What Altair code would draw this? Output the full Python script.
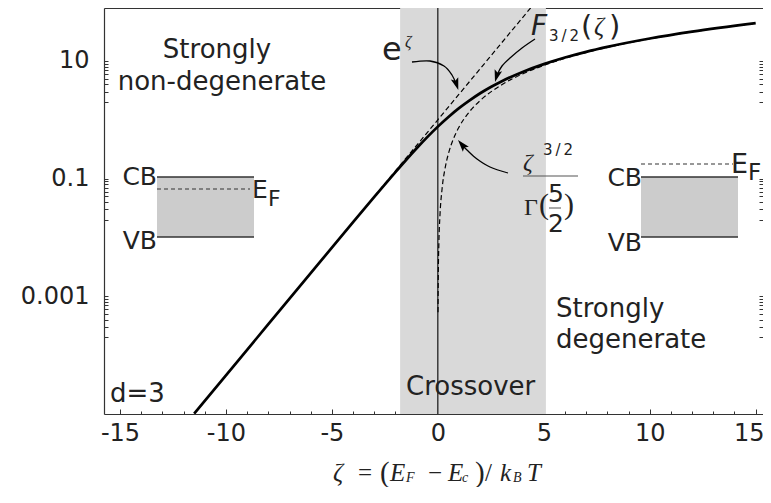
import altair as alt
import pandas as pd

# ---------------- data ----------------
# F_{3/2}(zeta) (solid, thick)
F_ZETA = [-11.5, -10, -8, -6, -4, -3, -2, -1.5, -1, -0.5, 0, 0.5, 1, 1.5, 2, 2.5, 3, 4, 5, 6, 7, 8, 10, 12, 15]
F_VAL = [1.013e-5, 4.540e-5, 3.354e-4, 2.477e-3, 0.01820, 0.04893, 0.1293, 0.2074, 0.3278, 0.5075,
         0.7651, 1.118, 1.576, 2.137, 2.824, 3.607, 4.488, 6.511, 8.840, 11.44, 14.29, 17.35, 24.08, 31.54, 43.94]
# e^zeta (dashed)
EXP_ZETA = [-3, -2, -1, 0, 1, 2, 3, 4, 4.4]
EXP_VAL = [0.04979, 0.1353, 0.3679, 1.0, 2.718, 7.389, 20.09, 54.60, 81.45]
# zeta^{3/2}/Gamma(5/2) (dashed)
DEG_ZETA = [0.008, 0.02, 0.05, 0.1, 0.2, 0.35, 0.5, 0.75, 1, 1.5, 2, 3, 4, 5, 6, 8, 10, 12, 15]
DEG_VAL = [5.382e-4, 2.128e-3, 8.410e-3, 0.02379, 0.06728, 0.1558, 0.2660, 0.4886, 0.7523, 1.382,
           2.128, 3.909, 6.018, 8.410, 11.06, 17.02, 23.79, 31.27, 43.70]
CROSS_LO, CROSS_HI = -1.78, 5.1

X_MAJOR = [-15, -10, -5, 0, 5, 10, 15]
X_LABELED = [-15, -10, -5, 0, 5, 10]
X_LAST = [15]
X_MINOR = list(range(-15, 16))
Y_MAJOR = [10, 0.1, 0.001]
Y_MINOR_FACTORS = [1, 0.9, 0.8, 0.7, 0.6, 0.5, 0.4, 0.3, 0.2]
X_DOMAIN = [-15.755, 15.345]
Y_DOMAIN = [1e-5, 79.4]

# ---------------- layout ----------------
W, H = 659, 406
OX, OY = 104, 8          # page position of the plot origin
INK = "#222222"
SANS = "DejaVu Sans"
SERIF = "Liberation Serif"
TY = 481                 # baseline of the x-axis title (page pixels)

y_ticks = sorted({round(m * f, 10) for m in Y_MAJOR for f in Y_MINOR_FACTORS})

xs = alt.Scale(domain=X_DOMAIN, nice=False, zero=False)
ys = alt.Scale(type="log", domain=Y_DOMAIN, nice=False)

common = dict(grid=False, title=None, tickColor="#333333", domainColor="#333333", domainWidth=1.2)
xlab = dict(ticks=False, labelExpr="'' + datum.value", labelFont=SANS, labelFontSize=24,
            labelColor=INK, labelPadding=7, labelOverlap=False, labelFlush=False)
ax_bottom = alt.Axis(orient="bottom", values=X_LABELED, **xlab, **common)
ax_bottom_last = alt.Axis(orient="bottom", values=X_LAST, domain=False, labelOffset=-7, **xlab, **common)
ax_left = alt.Axis(orient="left", values=Y_MAJOR, ticks=False,
                   labelExpr="datum.value > 1 ? '10' : (datum.value > 0.01 ? '0.1' : '0.001')",
                   labelFont=SANS, labelFontSize=24, labelColor=INK, labelPadding=15,
                   labelOverlap=False, **common)
ax_top = alt.Axis(orient="top", values=[0], ticks=False, labels=False, domain=True, **common)
ax_xmaj = alt.Axis(orient="top", offset=-H, values=X_MAJOR, labels=False, domain=False, tickSize=5,
                   tickWidth=1, **common)
ax_xmin = alt.Axis(orient="top", offset=-H, values=X_MINOR, labels=False, domain=False, tickSize=3,
                   tickWidth=1, **common)
ax_yl = alt.Axis(orient="right", offset=-W, values=y_ticks, labels=False, domain=False, tickSize=4,
                 tickWidth=1, **common)
ax_yr = alt.Axis(orient="left", offset=-W, values=y_ticks, labels=False, domain=False, tickSize=4,
                 tickWidth=1, **common)

layers = []

band = alt.Chart(pd.DataFrame({"lo": [CROSS_LO], "hi": [CROSS_HI]})).mark_rect(color="#d9d9d9").encode(
    x=alt.X("lo:Q", scale=xs, axis=ax_top), x2="hi:Q")
layers.append(band)

# inset band diagrams (page pixel coordinates)
RECTS = [(157, 177, 254, 237), (641, 177, 738, 237)]
for x0, y0, x1, y1 in RECTS:
    layers.append(alt.Chart(pd.DataFrame({"a": [0]})).mark_rect(color="#cccccc").encode(
        x=alt.value(x0 - OX), x2=alt.value(x1 - OX), y=alt.value(y0 - OY), y2=alt.value(y1 - OY)))
    for yy in (y0, y1):
        layers.append(alt.Chart(pd.DataFrame({"a": [0]})).mark_rule(color="#333333", strokeWidth=1.6).encode(
            x=alt.value(x0 - OX), x2=alt.value(x1 - OX), y=alt.value(yy - OY)))
EF_LINES = [(157, 250, 189), (641, 733, 164)]
for x0, x1, yy in EF_LINES:
    layers.append(alt.Chart(pd.DataFrame({"a": [0]})).mark_rule(color="#333333", strokeWidth=1.2,
                                                                 strokeDash=[4, 3]).encode(
        x=alt.value(x0 - OX), x2=alt.value(x1 - OX), y=alt.value(yy - OY)))

vline = alt.Chart(pd.DataFrame({"z": [0]})).mark_rule(color="black", strokeWidth=1.1).encode(
    x=alt.X("z:Q", scale=xs, axis=ax_bottom_last))
layers.append(vline)

exp_line = alt.Chart(pd.DataFrame({"zeta": EXP_ZETA, "val": EXP_VAL})).mark_line(
    color="black", strokeWidth=1.2, strokeDash=[5, 3], clip=True).encode(
    x=alt.X("zeta:Q", scale=xs, axis=ax_xmaj), y=alt.Y("val:Q", scale=ys, axis=ax_yl))
deg_line = alt.Chart(pd.DataFrame({"zeta": DEG_ZETA, "val": DEG_VAL})).mark_line(
    color="black", strokeWidth=1.2, strokeDash=[5, 3], clip=True, interpolate="monotone").encode(
    x=alt.X("zeta:Q", scale=xs, axis=ax_xmin), y=alt.Y("val:Q", scale=ys, axis=ax_yr))
f_line = alt.Chart(pd.DataFrame({"zeta": F_ZETA, "val": F_VAL})).mark_line(
    color="black", strokeWidth=2.7, clip=True, interpolate="monotone").encode(
    x=alt.X("zeta:Q", scale=xs, axis=ax_bottom), y=alt.Y("val:Q", scale=ys, axis=ax_left))
layers += [exp_line, deg_line, f_line]

# curved arrows (page pixel coordinates)
ARROW_PATHS = {
    "a": [(412, 62), (430, 61), (444, 66), (452, 75), (456, 84)],
    "b": [(535, 39), (522, 48), (510, 58), (502, 66), (497, 75)],
    "c": [(508, 173), (490, 167), (477, 159), (467, 150), (461, 144)],
}
rows = []
for g, pts in ARROW_PATHS.items():
    for i, (px, py) in enumerate(pts):
        rows.append({"g": g, "i": i, "px": px - OX, "py": py - OY})
arrows = alt.Chart(pd.DataFrame(rows)).mark_line(color="black", strokeWidth=1.3, interpolate="cardinal").encode(
    x=alt.X("px:Q", scale=None), y=alt.Y("py:Q", scale=None), detail="g:N", order="i:Q")
layers.append(arrows)
HEAD = "M0,0 L-0.4,1.25 L0,1.0 L0.4,1.25 Z"
ARROW_TIPS = [(458.3, 90, 162), (495, 82, 196), (458, 140, 320)]
for px, py, ang in ARROW_TIPS:
    layers.append(alt.Chart(pd.DataFrame({"a": [0]})).mark_point(
        shape=HEAD, size=380, filled=True, color="black", opacity=1, angle=ang, strokeWidth=0).encode(
        x=alt.value(px - OX), y=alt.value(py - OY)))

# fraction bars (page pixel coordinates)
BARS = [(523, 578, 176, 1.2), (549, 561, 208, 1.0)]
for x0, x1, yy, sw in BARS:
    layers.append(alt.Chart(pd.DataFrame({"a": [0]})).mark_rule(color="#555555", strokeWidth=sw).encode(
        x=alt.value(x0 - OX), x2=alt.value(x1 - OX), y=alt.value(yy - OY)))

# texts: (text, page x, page baseline y, size, align, font, style)
TEXTS = [
    ("Strongly", 217, 58, 26, "center", SANS, "normal"),
    ("non-degenerate", 222, 90, 26, "center", SANS, "normal"),
    ("Strongly", 556, 317, 26, "left", SANS, "normal"),
    ("degenerate", 556, 348, 26, "left", SANS, "normal"),
    ("Crossover", 406, 395, 26, "left", SANS, "normal"),
    ("d=3", 110, 402, 26, "left", SANS, "normal"),
    ("CB", 157, 185, 25, "right", SANS, "normal"),
    ("VB", 157, 249, 25, "right", SANS, "normal"),
    ("E", 252, 198, 25, "left", SANS, "normal"),
    ("F", 268, 206, 22, "left", SANS, "normal"),
    ("CB", 642, 186, 25, "right", SANS, "normal"),
    ("VB", 642, 251, 25, "right", SANS, "normal"),
    ("E", 731, 173, 27, "left", SANS, "normal"),
    ("F", 748, 180, 23, "left", SANS, "normal"),
    ("e", 382, 60, 32, "left", SANS, "normal"),
    ("\u03b6", 405, 47, 16, "left", SERIF, "italic"),
    ("F", 531, 35, 28, "left", SANS, "italic"),
    ("3\u2009/\u20092", 549, 41, 15, "left", SANS, "normal"),
    ("(", 581, 36, 29, "left", SANS, "normal"),
    ("\u03b6", 594, 35, 25, "left", SERIF, "italic"),
    (")", 609, 36, 29, "left", SANS, "normal"),
    ("\u03b6", 523, 170, 24, "left", SERIF, "italic"),
    ("3\u2009/\u20092", 543, 155, 15, "left", SANS, "normal"),
    ("\u0393", 524, 215, 24, "left", SERIF, "normal"),
    ("(", 539, 214, 30, "left", SERIF, "normal"),
    ("5", 548, 202, 25, "left", SANS, "normal"),
    ("2", 548, 232, 25, "left", SANS, "normal"),
    (")", 564, 214, 30, "left", SERIF, "normal"),
    # x-axis title: zeta = (E_F - E_c)/ k_B T
    ("\u03b6", 333, TY, 25, "left", SERIF, "italic"),
    ("=", 358, TY, 25, "left", SERIF, "normal"),
    ("(", 380, TY + 1, 29, "left", SERIF, "normal"),
    ("E", 390, TY, 25, "left", SERIF, "italic"),
    ("F", 406, TY + 1, 14, "left", SERIF, "italic"),
    ("\u2212", 428, TY, 25, "left", SERIF, "normal"),
    ("E", 448, TY, 25, "left", SERIF, "italic"),
    ("c", 462, TY + 1, 14, "left", SERIF, "italic"),
    (")", 475, TY + 1, 29, "left", SERIF, "normal"),
    ("/", 485, TY, 25, "left", SERIF, "normal"),
    ("k", 500, TY, 25, "left", SERIF, "italic"),
    ("B", 513, TY + 1, 14, "left", SERIF, "italic"),
    ("T", 527, TY, 25, "left", SERIF, "italic"),
]
for t, px, py, sz, al, fnt, sty in TEXTS:
    layers.append(alt.Chart(pd.DataFrame({"t": [t]})).mark_text(
        font=fnt, fontSize=sz, fontStyle=sty, align=al, baseline="alphabetic", color=INK).encode(
        x=alt.value(px - OX), y=alt.value(py - OY), text="t:N"))

chart = alt.layer(*layers).properties(
    width=W, height=H,
    autosize=alt.AutoSizeParams(type="none"),
    padding={"left": 96, "top": 0, "right": 0, "bottom": 73},
).resolve_axis(x="independent", y="independent").configure_view(stroke=None).configure(background="white")

chart.save("out.html", embed_options={"renderer": "svg", "actions": False})
